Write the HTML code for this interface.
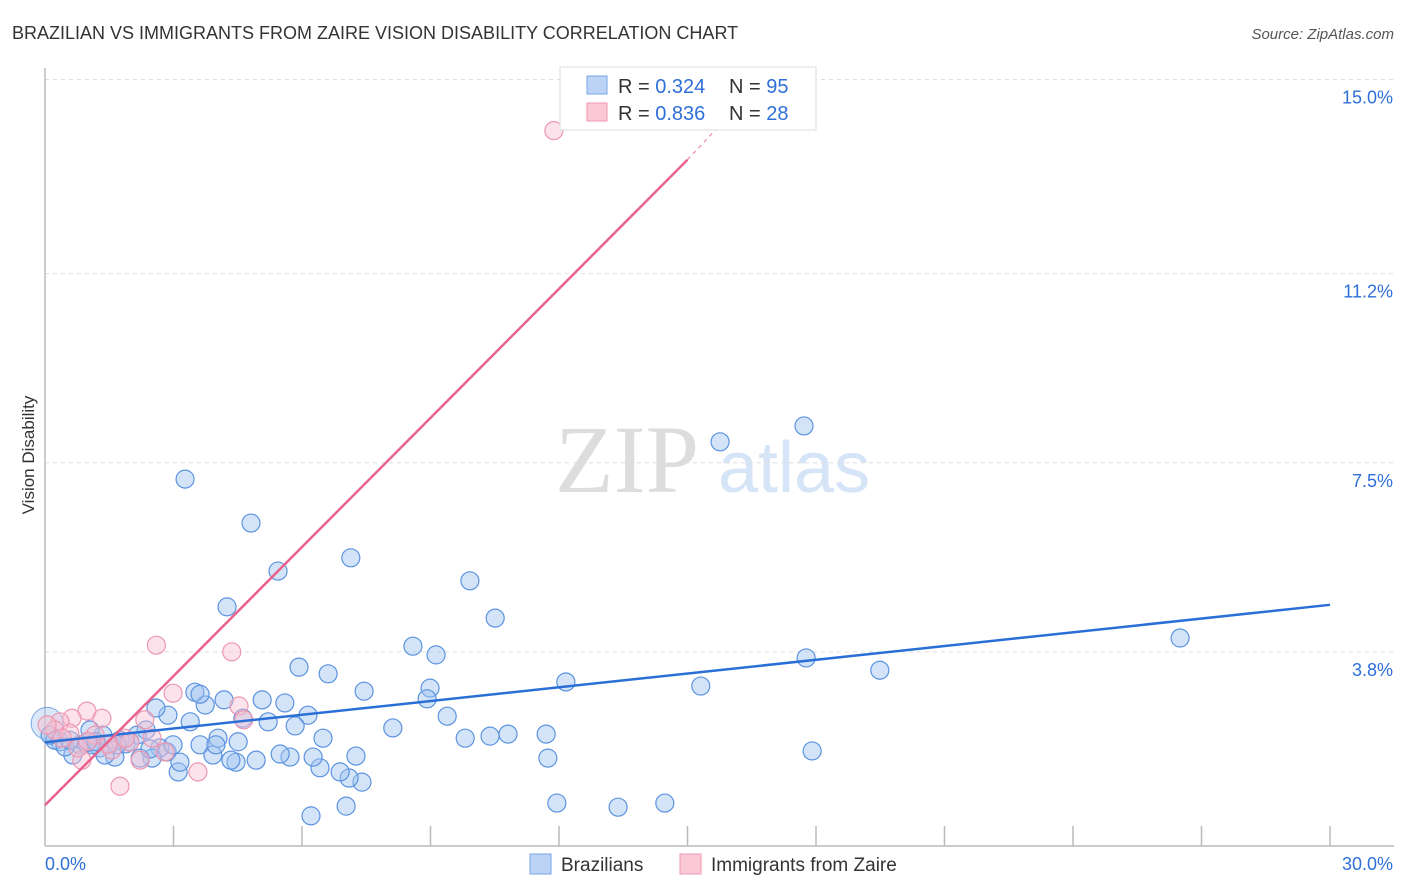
<!DOCTYPE html>
<html><head><meta charset="utf-8"><style>
body{margin:0;background:#fff;font-family:"Liberation Sans",sans-serif}
svg{display:block}
</style></head><body>
<svg id="c" width="1406" height="892">
<text x="12" y="39" font-size="18" fill="#333">BRAZILIAN VS IMMIGRANTS FROM ZAIRE VISION DISABILITY CORRELATION CHART</text>
<text x="1394" y="39" font-size="15" fill="#555" font-style="italic" text-anchor="end">Source: ZipAtlas.com</text>
<text x="34" y="455" font-size="17" fill="#333" transform="rotate(-90 34 455)" text-anchor="middle">Vision Disability</text>
<text x="555" y="492" font-size="96" fill="#ddd" font-family="Liberation Serif">ZIP</text>
<text x="718" y="492" font-size="72" fill="#d6e4f7">atlas</text>
<g id="grid"></g><g id="pts"></g><g id="lines"></g>
<g>
<rect x="560" y="67" width="256" height="63" fill="#fff" stroke="#ddd"/>
<rect x="587" y="76" width="20" height="18" fill="#bcd3f5" stroke="#7aa6e6"/>
<rect x="587" y="103" width="20" height="18" fill="#fac8d6" stroke="#ef9ab3"/>
<text y="93" font-size="20" fill="#333"><tspan x="618">R = </tspan><tspan fill="#2e6fd8">0.324</tspan><tspan x="729">N = </tspan><tspan fill="#2e6fd8">95</tspan></text>
<text y="120" font-size="20" fill="#333"><tspan x="618">R = </tspan><tspan fill="#2e6fd8">0.836</tspan><tspan x="729">N = </tspan><tspan fill="#2e6fd8">28</tspan></text>
</g>
<g>
<rect x="530" y="854" width="21" height="20" fill="#bcd3f5" stroke="#7aa6e6"/>
<text x="561" y="871" font-size="19" fill="#333">Brazilians</text>
<rect x="680" y="854" width="21" height="20" fill="#fac8d6" stroke="#ef9ab3"/>
<text x="711" y="871" font-size="19" fill="#333">Immigrants from Zaire</text>
</g>
</svg>
<script>
const yTicks=[3.8,7.5,11.2,15.0];
const yTickLabels=["3.8%","7.5%","11.2%","15.0%"];
const xTickLabels=["0.0%","30.0%"];
const bluePoints=[[3.27,7.18],[4.81,6.32],[5.44,5.38],[4.25,4.68],[7.14,5.64],[9.92,5.19],[10.51,4.46],[8.59,3.91],[9.13,3.74],[15.76,7.91],[17.72,8.22],[26.50,4.07],[17.77,3.68],[19.49,3.44],[15.31,3.13],[12.16,3.21],[17.91,1.86],[5.93,3.50],[6.61,3.37],[7.45,3.03],[8.99,3.09],[8.92,2.88],[9.39,2.54],[8.12,2.31],[9.81,2.11],[10.39,2.15],[10.81,2.19],[11.70,2.19],[11.74,1.72],[11.95,0.84],[13.38,0.76],[14.47,0.84],[6.21,0.59],[7.03,0.78],[7.40,1.25],[7.10,1.33],[6.89,1.45],[6.42,1.53],[7.26,1.76],[6.26,1.74],[5.72,1.74],[5.49,1.80],[6.49,2.11],[6.14,2.56],[5.84,2.35],[5.60,2.80],[5.07,2.86],[5.21,2.43],[4.62,2.50],[4.18,2.86],[3.74,2.76],[3.50,3.01],[3.62,2.97],[2.87,2.56],[2.59,2.70],[3.39,2.43],[2.36,2.27],[2.15,2.17],[2.85,1.84],[3.11,1.45],[3.15,1.64],[3.62,1.98],[3.92,1.78],[4.04,2.11],[3.99,1.98],[4.51,2.04],[4.46,1.64],[4.34,1.68],[4.93,1.68],[2.68,1.92],[2.50,1.72],[2.22,1.72],[1.63,1.74],[1.89,2.00],[1.52,2.00],[1.28,1.92],[1.10,1.98],[0.82,1.98],[0.65,1.78],[0.35,2.04],[0.23,2.07],[0.12,2.17],[0.47,1.94],[0.96,2.02],[1.75,2.07],[1.98,2.04],[1.35,2.17],[1.05,2.27],[1.40,1.78],[2.99,1.98],[2.45,1.90],[1.68,1.98],[1.19,2.04],[0.58,2.07]];
const pinkPoints=[[11.88,14.0],[2.6,3.93],[4.36,3.8],[2.99,2.99],[4.53,2.74],[4.64,2.47],[2.33,2.47],[0.98,2.64],[1.33,2.5],[0.63,2.5],[0.35,2.43],[0.23,2.27],[1.17,2.17],[0.86,1.68],[1.75,1.17],[3.57,1.45],[2.22,1.68],[2.5,2.11],[1.98,2.03],[1.56,1.88],[2.8,1.84],[1.87,2.11],[0.58,2.21],[0.05,2.37],[1.47,1.99],[0.77,1.92],[1.0,2.05],[0.4,2.11]];
const bigPoint=[0.05,2.4];
const blueLine=[[0,2.03],[30,4.72]];
const pinkLine=[[0,0.8],[15,13.43]];
const pinkDash=[[15,13.43],[15.75,14.1]];

const X0=45,X1=1330,Y0=846,PPU=51.1;
const sx=v=>X0+v/30*(X1-X0), sy=v=>Y0-v*PPU;
const NS="http://www.w3.org/2000/svg";
function mk(t,a,p){const e=document.createElementNS(NS,t);for(const k in a)e.setAttribute(k,a[k]);p.appendChild(e);return e;}
const grid=document.getElementById('grid');
yTicks.forEach((v,i)=>{
 const g=mk('line',{x1:X0,x2:1394,y1:sy(v),y2:sy(v),stroke:'#ddd','stroke-dasharray':'4 4'},grid);
 
 
 const t=mk('text',{x:1393,y:sy(v)+24,'font-size':18,fill:'#2e6fd8','text-anchor':'end'},grid);
 t.textContent=yTickLabels[i];
 
 
});
const ax=mk('line',{x1:X0,x2:X0,y1:68,y2:846,stroke:'#bbb','stroke-width':1.5},grid);


const bx=mk('line',{x1:X0,x2:1394,y1:846,y2:846,stroke:'#bbb','stroke-width':1.5},grid);


for(let i=1;i<=10;i++){const t=mk('line',{x1:sx(i*3),x2:sx(i*3),y1:826,y2:846,stroke:'#bbb','stroke-width':1.5},grid);
 
 }
[[0,'start'],[30,'end']].forEach((o,i)=>{const t=mk('text',{x:i?1393:45,y:870,'font-size':18,fill:'#2e6fd8','text-anchor':o[1]},grid);t.textContent=xTickLabels[i];
 
 });
const pts=document.getElementById('pts');
const big=mk('circle',{cx:sx(bigPoint[0]),cy:sy(bigPoint[1]),r:16,fill:'rgba(160,195,240,0.4)',stroke:'#7aa6e6'},pts);


bluePoints.forEach(p=>{const c=mk('circle',{cx:sx(p[0]),cy:sy(p[1]),r:9,fill:'rgba(160,195,240,0.45)',stroke:'#5b93e0','stroke-width':1.2},pts);
 
 });
pinkPoints.forEach(p=>{const c=mk('circle',{cx:sx(p[0]),cy:sy(p[1]),r:9,fill:'rgba(248,190,208,0.45)',stroke:'#ec98b2','stroke-width':1.2},pts);
 
 });
const L=document.getElementById('lines');
const l1=mk('line',{x1:sx(blueLine[0][0]),y1:sy(blueLine[0][1]),x2:sx(blueLine[1][0]),y2:sy(blueLine[1][1]),stroke:'#2a6fd6','stroke-width':2.5},L);


const l2=mk('line',{x1:sx(pinkLine[0][0]),y1:sy(pinkLine[0][1]),x2:sx(pinkLine[1][0]),y2:sy(pinkLine[1][1]),stroke:'#e8628c','stroke-width':2.5},L);


const l3=mk('line',{x1:sx(pinkDash[0][0]),y1:sy(pinkDash[0][1]),x2:sx(pinkDash[1][0]),y2:sy(pinkDash[1][1]),stroke:'#f0a0b8','stroke-width':1.5,'stroke-dasharray':'4 4'},L);


</script>
</body></html>
